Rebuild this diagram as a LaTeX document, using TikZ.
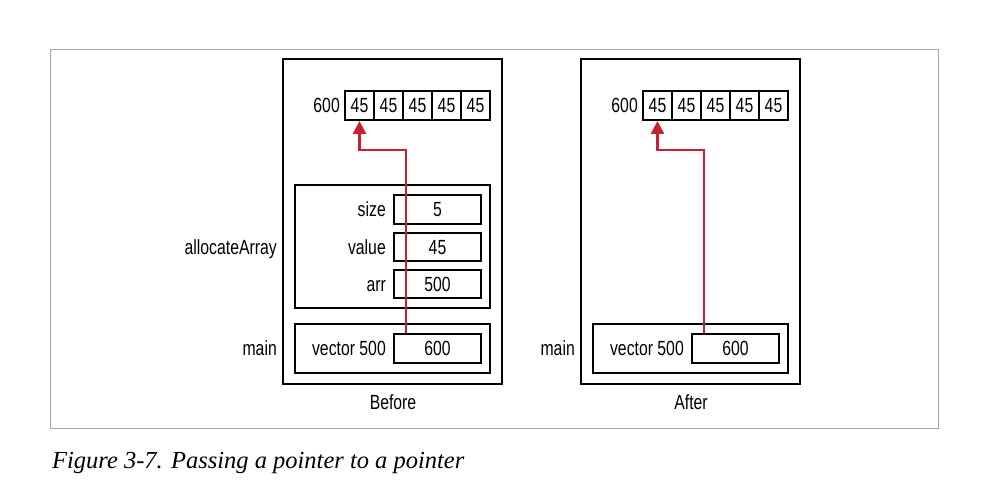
\documentclass[tikz,border=0pt]{standalone}
\usepackage{fontspec}
\setmainfont{Liberation Sans}[FakeStretch=0.77]
\newfontfamily\capfont{Liberation Serif}
\usepackage{xcolor}
\usepackage{tikz}
\usetikzlibrary{arrows.meta,positioning,calc}
\definecolor{ptrred}{RGB}{200,32,44}
\definecolor{framegray}{RGB}{165,165,165}
\begin{document}
\begin{tikzpicture}[
      x=1pt, y=-1pt,
      every node/.style = {font=\fontsize{20.5}{24}\selectfont, inner sep=0pt, text height=14.7pt, text depth=0.5pt},
      stack/.style = {draw, line width=2.8pt, minimum width=219pt, minimum height=325pt},
      frame/.style = {draw, line width=2.6pt, minimum width=195pt},
      cell/.style = {draw, line width=2pt, minimum width=29pt, minimum height=29pt},
      var/.style = {draw, line width=2pt, minimum width=87pt, minimum height=28pt},
      ptr/.style = {draw=ptrred, line width=2.6pt, -{Triangle[length=13pt,width=13pt]}}
    ]
    \useasboundingbox (0,0) rectangle (986,484);
    \draw[framegray, line width=1pt] (50,50) rectangle (938,428);

    % before
    \node[stack] (before) at (392.5,221.5) {};
    \foreach \i in {0,...,4}
      \node[cell] (bA\i) at (359.5+29*\i,105.5) {45};
    \node[left=4pt of bA0] (barr) {600};
    \node[frame, minimum height=123pt] (alloc) at (392.5,246.5) {};
    \node[var] (bsize) at (437.5,209.5) {5};
    \node[var] (bvalue) at (437.5,247) {45};
    \node[var] (barrp) at (437.5,284) {500};
    \node[left=7pt of bsize] {size};
    \node[left=7pt of bvalue] {value};
    \node[left=7pt of barrp] {arr};
    \node[anchor=east] (lalloc) at (277,247) {allocateArray};
    \node[frame, minimum height=49pt] (bmain) at (392.5,348.5) {};
    \node[var, minimum height=29pt] (bvec) at (437.5,348.5) {600};
    \node[left=7pt of bvec] {vector 500};
    \node[anchor=east] (lbmain) at (277,348.5) {main};
    \node (lbefore) at (393,402) {Before};
    \draw[ptr] ($(bvec.north west)+(13,0)$) |- ($(bA0.south)+(0,29)$) -- (bA0.south);

    % after
    \node[stack] (after) at (690.5,221.5) {};
    \foreach \i in {0,...,4}
      \node[cell] (aA\i) at (657.5+29*\i,105.5) {45};
    \node[left=4pt of aA0] (aarr) {600};
    \node[frame, minimum height=49pt] (amain) at (690.5,348.5) {};
    \node[var, minimum height=29pt] (avec) at (735.5,348.5) {600};
    \node[left=7pt of avec] {vector 500};
    \node[anchor=east] (lamain) at (575,348.5) {main};
    \node (lafter) at (691,402) {After};
    \draw[ptr] ($(avec.north west)+(13,0)$) |- ($(aA0.south)+(0,29)$) -- (aA0.south);

    \node[anchor=base west, font=\capfont\itshape\fontsize{24.5}{28}\selectfont] (caption) at (52,468) {Figure 3-7. Passing a pointer to a pointer};
  \end{tikzpicture}
\end{document}
